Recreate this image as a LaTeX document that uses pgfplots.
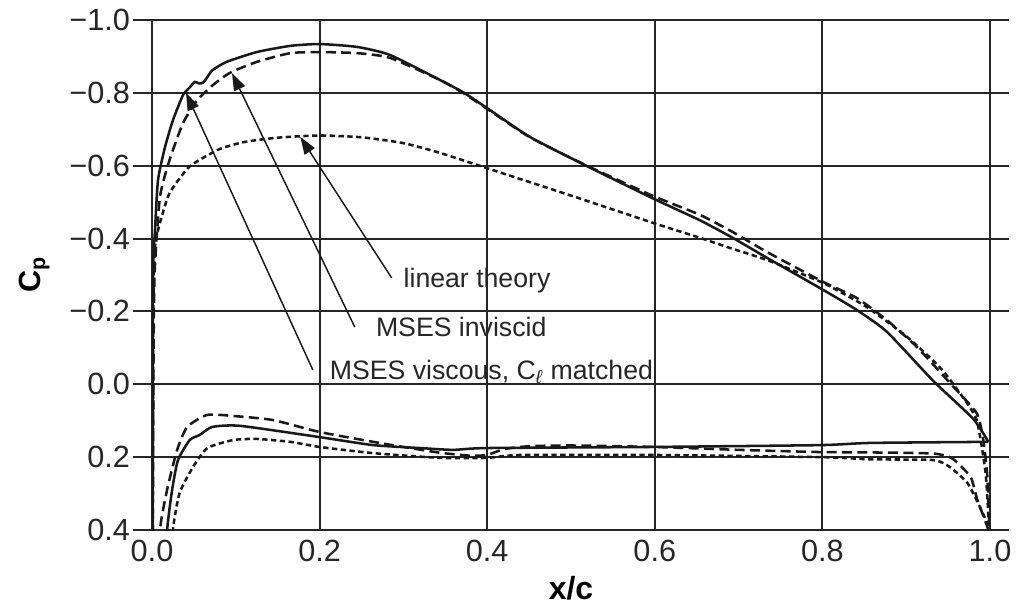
\documentclass[border=0pt]{standalone}
\usepackage{fontspec}
\setmainfont{Liberation Sans}
\usepackage{pgfplots}
\pgfplotsset{compat=1.18}
\usetikzlibrary{arrows.meta}
\begin{document}
\begin{tikzpicture}
\begin{axis}[
  scale only axis, width=628.5pt, height=382.5pt,
  xmin=0, xmax=1, ymin=-1, ymax=0.4, y dir=reverse,
  xtick={0,0.2,0.4,0.6,0.8,1},
  xticklabels={0.0,0.2,0.4,0.6,0.8,1.0},
  ytick={-1,-0.8,-0.6,-0.4,-0.2,0,0.2,0.4},
  yticklabels={−1.0,−0.8,−0.6,−0.4,−0.2,0.0,0.2,0.4},
  grid=major,
  grid style={line width=1.4pt, color=black!85},
  axis line style={line width=1.4pt, color=black!85},
  tick align=outside, major tick length=14pt,
  xtick style={draw=none},
  ytick style={line width=1.4pt, color=black!85},
  ticklabel style={font=\fontsize{23}{26}\selectfont, text=black!85},
  xticklabel style={yshift=10pt},
  yticklabel style={xshift=1pt},
  xlabel={\textbf{x/c}},
  ylabel={\textbf{C\textsubscript{p}}},
  xlabel style={font=\fontsize{24}{28}\selectfont, yshift=-4pt},
  ylabel style={font=\fontsize{23}{26}\selectfont, yshift=8pt},
  every axis plot/.append style={line width=1.9pt, black!90},
]
% MSES viscous, upper
\addplot[smooth, tension=0.35] coordinates {
(0.0008,0.45) (0.0012,-0.29) (0.0036,-0.424) (0.0072,-0.561) (0.0155,-0.651)
(0.025,-0.725) (0.037,-0.794) (0.045,-0.815) (0.051,-0.830) (0.056,-0.826)
(0.061,-0.828) (0.066,-0.843) (0.072,-0.862) (0.089,-0.885) (0.125,-0.912)
(0.165,-0.929) (0.200,-0.934) (0.245,-0.926) (0.284,-0.904) (0.344,-0.835)
(0.371,-0.802) (0.400,-0.758) (0.451,-0.679) (0.519,-0.599) (0.598,-0.510)
(0.654,-0.450) (0.693,-0.402) (0.734,-0.347) (0.801,-0.259) (0.841,-0.204)
(0.877,-0.144) (0.932,-0.010) (0.980,0.095) (0.998,0.158)
};
% MSES viscous, lower
\addplot[smooth, tension=0.35] coordinates {
(0.012,0.6) (0.018,0.40) (0.024,0.290) (0.031,0.208) (0.045,0.153) (0.057,0.139)
(0.072,0.117) (0.105,0.114) (0.200,0.145) (0.264,0.167) (0.320,0.175)
(0.359,0.180) (0.400,0.175) (0.598,0.172) (0.797,0.167) (0.857,0.161) (0.998,0.158)
};
% MSES inviscid, upper
\addplot[smooth, tension=0.35, dash pattern=on 7.5pt off 4pt] coordinates {
(0.0010,0.45) (0.0016,0.0) (0.003,-0.3) (0.0095,-0.514) (0.021,-0.616)
(0.037,-0.717) (0.054,-0.780) (0.073,-0.822) (0.093,-0.855) (0.125,-0.885)
(0.165,-0.909) (0.200,-0.912) (0.245,-0.909) (0.284,-0.896) (0.344,-0.835)
(0.371,-0.800) (0.400,-0.756) (0.451,-0.678) (0.519,-0.600) (0.598,-0.517)
(0.654,-0.465) (0.693,-0.418) (0.734,-0.363) (0.801,-0.281) (0.841,-0.237)
(0.877,-0.176) (0.913,-0.102) (0.952,-0.004) (0.984,0.079) (0.992,0.153)
(0.997,0.26) (1.0,0.45)
};
% MSES inviscid, lower
\addplot[smooth, tension=0.35, dash pattern=on 7.5pt off 4pt] coordinates {
(0.006,0.6) (0.0095,0.40) (0.018,0.290) (0.030,0.180) (0.042,0.117) (0.066,0.084)
(0.097,0.087) (0.144,0.098) (0.200,0.131) (0.264,0.158) (0.300,0.172)
(0.344,0.188) (0.380,0.196) (0.400,0.194) (0.420,0.178) (0.450,0.170)
(0.500,0.168) (0.598,0.172) (0.700,0.180) (0.797,0.186) (0.857,0.187)
(0.932,0.190) (0.952,0.200) (0.960,0.213) (0.977,0.255) (0.985,0.318)
(0.998,0.40) (1.0,0.45)
};
% linear theory, upper
\addplot[smooth, tension=0.35, dash pattern=on 4pt off 2.6pt] coordinates {
(0.0010,0.45) (0.0015,-0.2) (0.0036,-0.377) (0.0095,-0.443) (0.021,-0.525)
(0.045,-0.598) (0.080,-0.645) (0.110,-0.665) (0.150,-0.677) (0.200,-0.683)
(0.250,-0.678) (0.300,-0.662) (0.344,-0.635) (0.400,-0.593) (0.500,-0.518)
(0.598,-0.443) (0.654,-0.402) (0.690,-0.374) (0.734,-0.341) (0.801,-0.278)
(0.853,-0.212) (0.901,-0.130) (0.940,-0.047) (0.964,0.024) (0.984,0.098)
(0.995,0.25) (1.0,0.45)
};
% linear theory, lower
\addplot[smooth, tension=0.35, dash pattern=on 4pt off 2.6pt] coordinates {
(0.020,0.6) (0.025,0.40) (0.033,0.298) (0.049,0.227) (0.066,0.175) (0.097,0.153)
(0.125,0.150) (0.165,0.158) (0.200,0.172) (0.264,0.189) (0.344,0.202)
(0.400,0.202) (0.440,0.194) (0.598,0.194) (0.800,0.200) (0.857,0.206)
(0.932,0.208) (0.952,0.227) (0.973,0.271) (0.988,0.337) (0.998,0.392) (1.0,0.45)
};
% annotations
\draw[line width=1.1pt, black!90, -{Triangle[length=13pt,width=9pt]}]
  (axis cs:0.286,-0.292) -- (axis cs:0.177,-0.679);
\draw[line width=1.1pt, black!90, -{Triangle[length=13pt,width=9pt]}]
  (axis cs:0.242,-0.157) -- (axis cs:0.0955,-0.854);
\draw[line width=1.1pt, black!90, -{Triangle[length=13pt,width=9pt]}]
  (axis cs:0.192,-0.039) -- (axis cs:0.0406,-0.800);
\node[anchor=west, inner sep=0pt, font=\fontsize{20}{23}\selectfont, text=black!85]
  at (axis cs:0.300,-0.284) {linear theory};
\node[anchor=west, inner sep=0pt, font=\fontsize{20}{23}\selectfont, text=black!85]
  at (axis cs:0.267,-0.157) {MSES inviscid};
\node[anchor=west, inner sep=0pt, font=\fontsize{20}{23}\selectfont, text=black!85]
  at (axis cs:0.212,-0.034) {MSES viscous, C\textsubscript{\textit{ℓ}} matched};
\end{axis}
\path ([xshift=-114pt,yshift=-59.25pt]current axis.south west) rectangle ([xshift=27pt,yshift=15pt]current axis.north east);
\end{tikzpicture}
\end{document}
